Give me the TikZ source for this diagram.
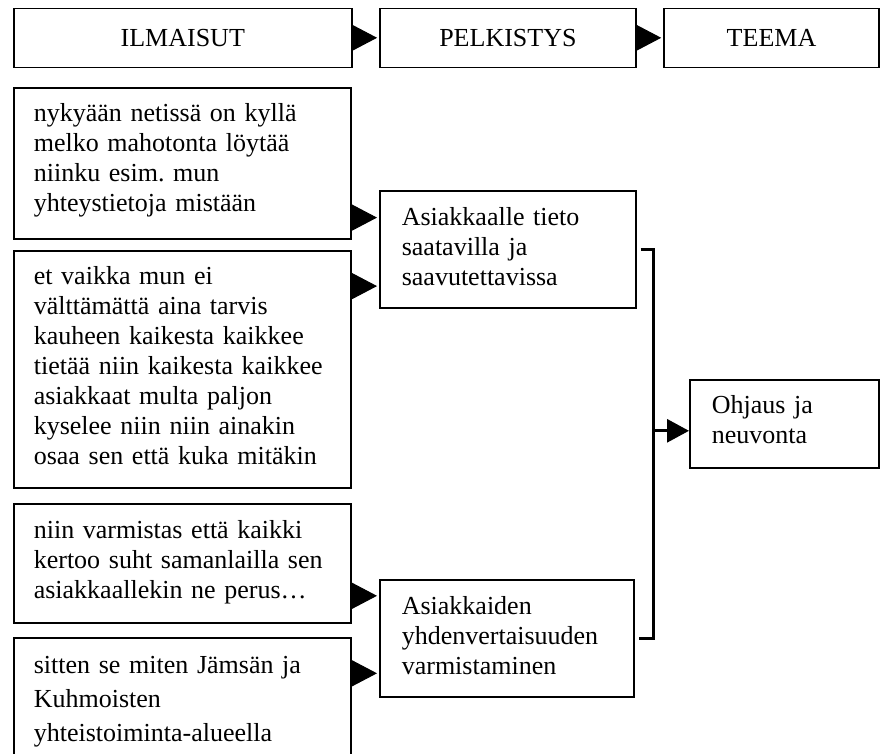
\documentclass[tikz,border=0pt]{standalone}
\usepackage{fontspec}
\setmainfont{Liberation Serif}
\frenchspacing
\usetikzlibrary{arrows.meta, positioning, calc}

\begin{document}
\begin{tikzpicture}[
  x=1pt, y=-1pt,
  head/.style={rectangle, draw, line width=1.6pt, minimum height=59pt, inner sep=0pt, font=\fontsize{26}{30}\selectfont},
  quote/.style={rectangle, draw, line width=1.6pt, anchor=north west, align=left, text width=297pt, inner xsep=20pt, inner ysep=0pt, text height=34pt, font=\fontsize{26}{30}\selectfont},
  result/.style={quote, inner xsep=22pt, text height=35pt},
  tip/.style={-{Triangle[length=25pt, width=26pt]}, line width=1pt, shorten >=2pt},
  bracket/.style={line width=3pt}
]
  \clip (0,0) rectangle (880,753);

  % column headings
  \node[head, minimum width=338pt, anchor=north west] (ilm) at (13,7.5) {ILMAISUT};
  \node[head, minimum width=256pt, right=26.5pt of ilm] (pel) {PELKISTYS};
  \node[head, minimum width=215pt, right=26.5pt of pel] (tee) {TEEMA};
  \draw[tip] (ilm) -- (pel);
  \draw[tip] (pel) -- (tee);

  % quotes
  \node[quote, text depth=117pt] (q1) at (13,87) {nykyään netissä on kyllä\\melko mahotonta löytää\\niinku esim. mun\\yhteystietoja mistään};
  \node[quote, text depth=203pt, below=10.5pt of q1] (q2) {et vaikka mun ei\\välttämättä aina tarvis\\kauheen kaikesta kaikkee\\tietää niin kaikesta kaikkee\\asiakkaat multa paljon\\kyselee niin niin ainakin\\osaa sen että kuka mitäkin};
  \node[quote, text depth=85pt, below=14.5pt of q2] (q3) {niin varmistas että kaikki\\kertoo suht samanlailla sen\\asiakkaallekin ne perus…};
  \node[quote, text depth=140pt, text height=35pt, font=\fontsize{26}{34}\selectfont, below=13.5pt of q3] (q4) {sitten se miten Jämsän ja\\Kuhmoisten\\yhteistoiminta-alueella};

  % reductions and theme
  \node[result, text width=212pt, text depth=82pt] (m1) at (379,190) {Asiakkaalle tieto\\saatavilla ja\\saavutettavissa};
  \node[result, text width=210pt, text depth=82pt] (m2) at (379,579) {Asiakkaiden\\yhdenvertaisuuden\\varmistaminen};
  \node[result, text width=145pt, text height=34pt, text depth=54pt] (ohj) at (689,379) {Ohjaus ja\\neuvonta};

  \coordinate (a1) at ($(q1.south east)+(0,-22)$);
  \coordinate (a2) at ($(q2.north east)+(0,36)$);
  \coordinate (a3) at ($(q3.south east)+(0,-28)$);
  \coordinate (a4) at ($(q4.north east)+(0,36)$);
  \draw[tip] (a1) -- (a1 -| m1.west);
  \draw[tip] (a2) -- (a2 -| m1.west);
  \draw[tip] (a3) -- (a3 -| m2.west);
  \draw[tip] (a4) -- (a4 -| m2.west);

  \draw[bracket] ($(m1.east)+(4,0)$) -- ++(13,0) coordinate (brk) |- ($(m2.east)+(4,0)$);
  \coordinate (join) at ($(brk |- ohj.west)+(0,7)$);
  \draw[tip, bracket, -{Triangle[length=22pt, width=23pt]}, shorten >=0pt] (join) -- (join -| ohj.west);
\end{tikzpicture}
\end{document}
